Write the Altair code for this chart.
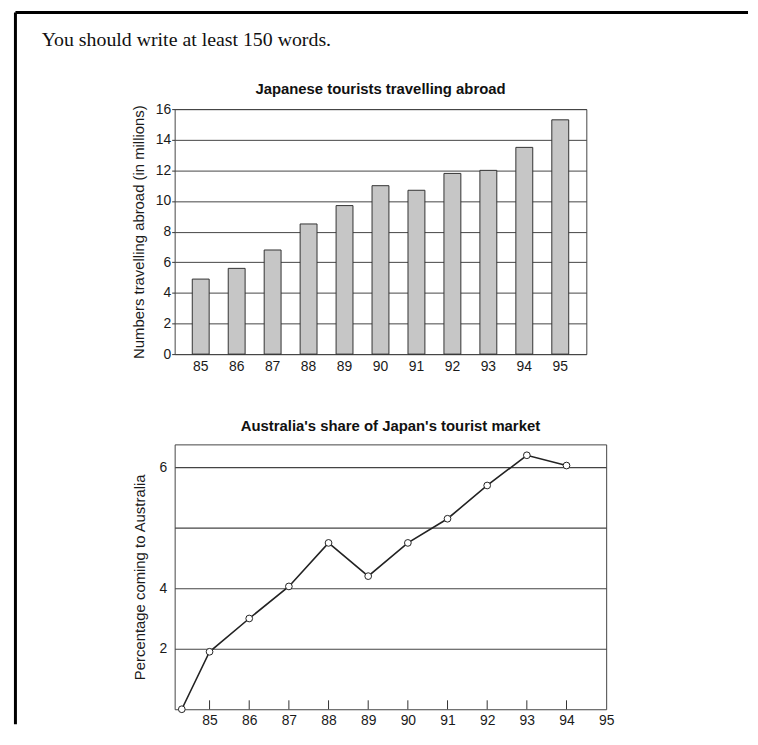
import altair as alt
import pandas as pd

# ---------------- data ----------------
bar_years = ["85", "86", "87", "88", "89", "90", "91", "92", "93", "94", "95"]
tourists_millions = [4.9, 5.6, 6.8, 8.5, 9.7, 11.0, 10.7, 11.8, 12.0, 13.5, 15.3]
bar_y_ticks = [0, 2, 4, 6, 8, 10, 12, 14, 16]

share_years = [84.3, 85, 86, 87, 88, 89, 90, 91, 92, 93, 94]
share_pct = [0.0, 1.9, 3.0, 4.03, 4.75, 4.2, 4.75, 5.15, 5.7, 6.2, 6.03]
share_x_labels = [85, 86, 87, 88, 89, 90, 91, 92, 93, 94, 95]
share_tick_years = [85, 86, 87, 88, 89, 90, 91, 92, 93, 94]
share_y_ticks = [2, 4, 5, 6]

header = "You should write at least 150 words."
title_top = "Japanese tourists travelling abroad"
title_bottom = "Australia's share of Japan's tourist market"
ytitle_top = "Numbers travelling abroad (in millions)"
ytitle_bottom = "Percentage coming to Australia"

FONT = "Liberation Sans"
INK = "#1a1a1a"
GRID = "#444444"

# ---------------- decoration (page frame + header line) ----------------
deco_df = pd.DataFrame({"k": [0]})
deco_base = alt.Chart(deco_df)
top_line = deco_base.mark_rule(color="#000000", strokeWidth=3).encode(
    x=alt.value(-160.5), x2=alt.value(578), y=alt.value(-5.5)
)
left_line = deco_base.mark_rule(color="#000000", strokeWidth=3).encode(
    x=alt.value(-160.5), y=alt.value(-5.5), y2=alt.value(712)
)
header_text = deco_base.mark_text(
    text=header, align="left", baseline="alphabetic",
    font="Liberation Serif", fontSize=20, color="#111111"
).encode(x=alt.value(-134), y=alt.value(28))
deco = alt.layer(top_line, left_line, header_text).properties(
    width=415, height=1, view=alt.ViewBackground(strokeOpacity=0)
)

# ---------------- top chart: bars ----------------
df1 = pd.DataFrame({"year": bar_years, "tourists": tourists_millions})
bars = alt.Chart(df1).mark_bar(color="#c6c6c6", stroke="#333333", strokeWidth=1).encode(
    x=alt.X(
        "year:N", sort=bar_years,
        scale=alt.Scale(paddingInner=0.53, paddingOuter=0.49),
        axis=alt.Axis(title=None, labelAngle=0, ticks=False, domain=False,
                      labelPadding=6, grid=False),
    ),
    y=alt.Y(
        "tourists:Q",
        scale=alt.Scale(domain=[0, 16], nice=False, zero=False),
        axis=alt.Axis(values=bar_y_ticks, title=ytitle_top, grid=True,
                      gridColor=GRID, gridWidth=1, domain=False,
                      tickSize=3, tickColor="#333333", labelPadding=1,
                      titlePadding=9),
    ),
).properties(
    width=415, height=247,
    title=alt.TitleParams(title_top, frame="group", anchor="middle",
                          baseline="alphabetic", offset=8, dy=15),
)

# ---------------- bottom chart: line ----------------
df2 = pd.DataFrame({"year": share_years, "pct": share_pct})
df_ticks = pd.DataFrame({"year": share_tick_years})

x2 = alt.X(
    "year:Q",
    scale=alt.Scale(domain=[84.12, 95], nice=False, zero=False),
    axis=alt.Axis(title=None, values=share_x_labels, format="d", ticks=False,
                  domain=False, grid=False, labelPadding=4, labelFlush=False,
                  labelOverlap=False),
)
y2 = alt.Y(
    "pct:Q",
    scale=alt.Scale(domain=[0, 2, 4, 6.38], range=[267, 206, 145, 0],
                    nice=False, zero=False),
    axis=alt.Axis(values=share_y_ticks, title=ytitle_bottom, grid=True,
                  gridColor=GRID, gridWidth=1.2, ticks=False, domain=False,
                  labelPadding=8, titlePadding=12,
                  labelExpr="datum.value == 5 ? '' : datum.label"),
)

line_base = alt.Chart(df2).encode(x=x2, y=y2)
line = line_base.mark_line(color="#222222", strokeWidth=1.6)
points = line_base.mark_point(shape="circle", filled=True, fill="white",
                              stroke="#222222", strokeWidth=1, size=46,
                              opacity=1)
inner_ticks = alt.Chart(df_ticks).mark_rule(color="#333333", strokeWidth=1).encode(
    x=x2, y=alt.value(267), y2=alt.value(258)
)
bottom = alt.layer(inner_ticks, line, points).properties(
    width=435, height=267,
    title=alt.TitleParams(title_bottom, frame="group", anchor="middle",
                          baseline="alphabetic", offset=11, dy=13),
)

chart = (
    alt.vconcat(deco, bars, bottom, spacing=91, bounds="flush")
    .properties(padding={"left": 6, "top": 0, "right": 0, "bottom": 0},
                background="white")
    .configure(font=FONT)
    .configure_view(stroke="#444444", strokeWidth=1)
    .configure_axis(labelFont=FONT, titleFont=FONT, labelFontSize=14,
                    titleFontSize=15, titleFontWeight="normal",
                    labelColor=INK, titleColor=INK)
    .configure_title(font=FONT, fontSize=15, fontWeight="bold", color="#111111")
)

chart.save("out.html", embed_options={"renderer": "svg", "actions": False})
